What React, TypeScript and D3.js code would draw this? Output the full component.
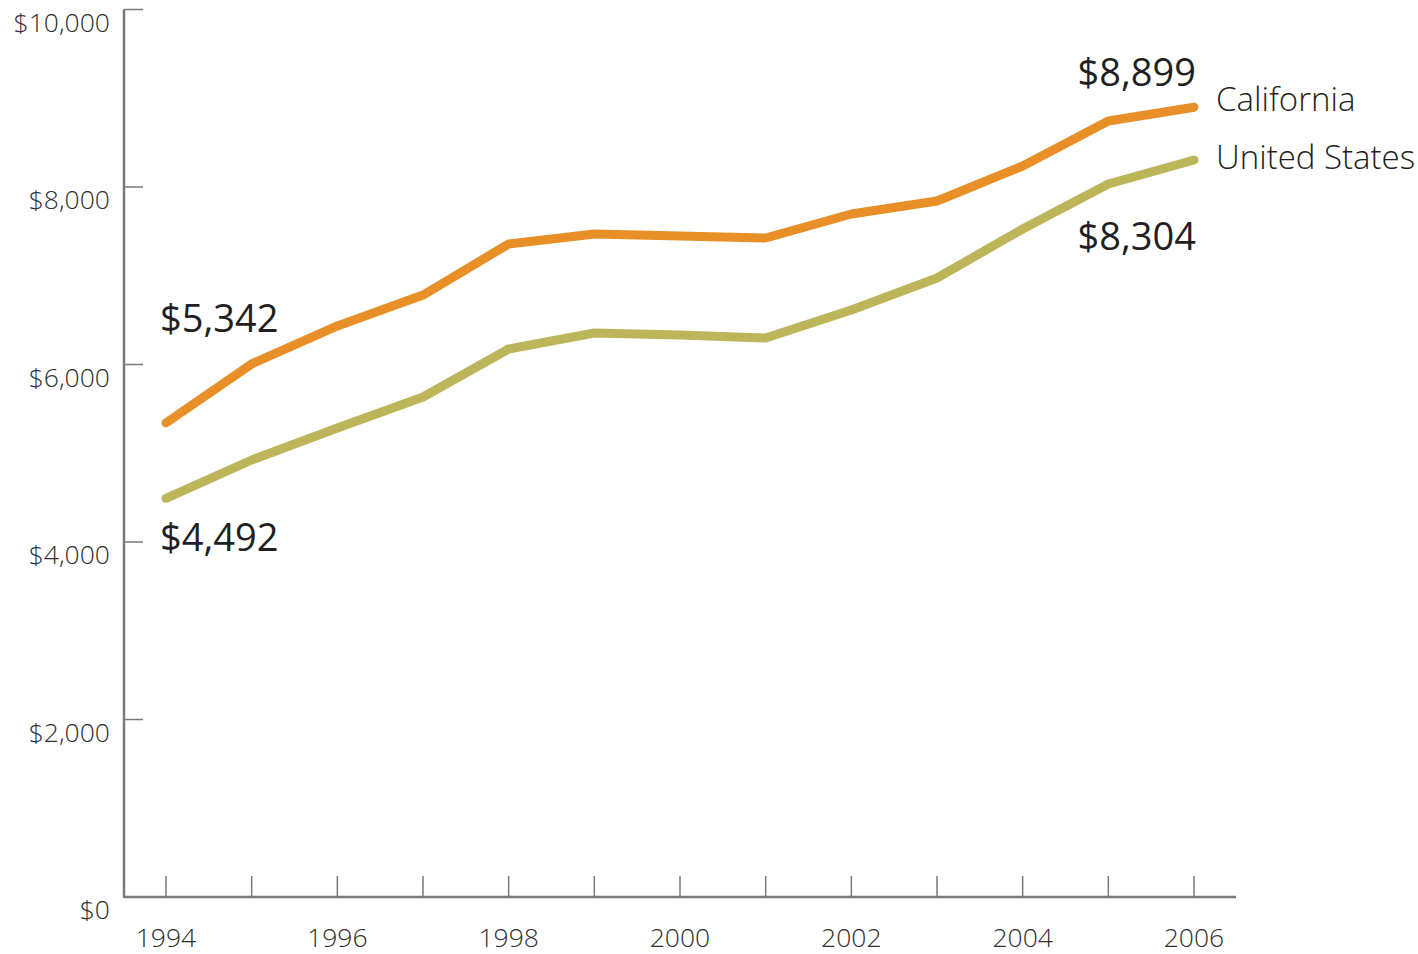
import React from "react";
import * as d3 from "d3";

const years = [1994, 1995, 1996, 1997, 1998, 1999, 2000, 2001, 2002, 2003, 2004, 2005, 2006];
const california = [5342, 6006, 6434, 6783, 7358, 7470, 7448, 7425, 7696, 7842, 8237, 8744, 8899];
const unitedStates = [4492, 4924, 5284, 5634, 6175, 6355, 6332, 6299, 6614, 6975, 7527, 8034, 8304];
const yTicks = [0, 2000, 4000, 6000, 8000, 10000];
const xTickLabels = [1994, 1996, 1998, 2000, 2002, 2004, 2006];

const W = 1418, H = 954;
const FONT = "'Open Sans', 'Noto Sans', sans-serif";

export default function App() {
  const x = d3.scaleLinear().domain([1994, 2006]).range([166, 1194]);
  const y = d3.scaleLinear().domain([0, 10000]).range([897, 9.5]);
  const line = d3.line<number>().x((_, i) => x(years[i])).y((d) => y(d));
  const fmt = (v: number) => "$" + d3.format(",")(v);
  const axisColor = "#7a7a7a";
  const n = years.length - 1;

  return (
    <svg width={W} height={H} style={{ position: "absolute", left: 0, top: 0 }}>
      <rect width={W} height={H} fill="#fff" />
      {/* y axis */}
      <line x1={124} x2={124} y1={y(10000)} y2={y(0)} stroke={axisColor} strokeWidth={2.5} />
      {yTicks.map((t) => (
        <g key={t}>
          {t > 0 && <line x1={124} x2={143} y1={y(t)} y2={y(t)} stroke={axisColor} strokeWidth={1.5} />}
          <text x={110} y={y(t) + 22} textAnchor="end" fontFamily={FONT} fontWeight={300} fontSize={26.5} fill="#2e2e2e">
            {fmt(t)}
          </text>
        </g>
      ))}
      {/* x axis */}
      <line x1={123} x2={1236} y1={y(0)} y2={y(0)} stroke={axisColor} strokeWidth={2.5} />
      {years.map((yr) => (
        <line key={yr} x1={x(yr)} x2={x(yr)} y1={y(0)} y2={y(0) - 21} stroke={axisColor} strokeWidth={1.5} />
      ))}
      {xTickLabels.map((yr) => (
        <text key={yr} x={x(yr)} y={947} textAnchor="middle" fontFamily={FONT} fontWeight={300} fontSize={26.5} fill="#2e2e2e">
          {yr}
        </text>
      ))}
      {/* lines */}
      <path d={line(unitedStates) || ""} fill="none" stroke="#BDB55A" strokeWidth={9} strokeLinecap="round" strokeLinejoin="round" />
      <path d={line(california) || ""} fill="none" stroke="#E88F27" strokeWidth={9} strokeLinecap="round" strokeLinejoin="round" />
      {/* value labels */}
      <text x={160} y={y(california[0]) - 91} fontFamily={FONT} fontSize={38} fill="#231f20">{fmt(california[0])}</text>
      <text x={160} y={y(unitedStates[0]) + 53} fontFamily={FONT} fontSize={38} fill="#231f20">{fmt(unitedStates[0])}</text>
      <text x={1196} y={y(california[n]) - 21} textAnchor="end" fontFamily={FONT} fontSize={38} fill="#231f20">{fmt(california[n])}</text>
      <text x={1196} y={y(unitedStates[n]) + 90} textAnchor="end" fontFamily={FONT} fontSize={38} fill="#231f20">{fmt(unitedStates[n])}</text>
      {/* series labels */}
      <text x={1216} y={y(california[n]) + 4} fontFamily={FONT} fontWeight={300} fontSize={33} fill="#231f20">California</text>
      <text x={1216} y={y(unitedStates[n]) + 9} fontFamily={FONT} fontWeight={300} fontSize={33} fill="#231f20">United States</text>
    </svg>
  );
}
